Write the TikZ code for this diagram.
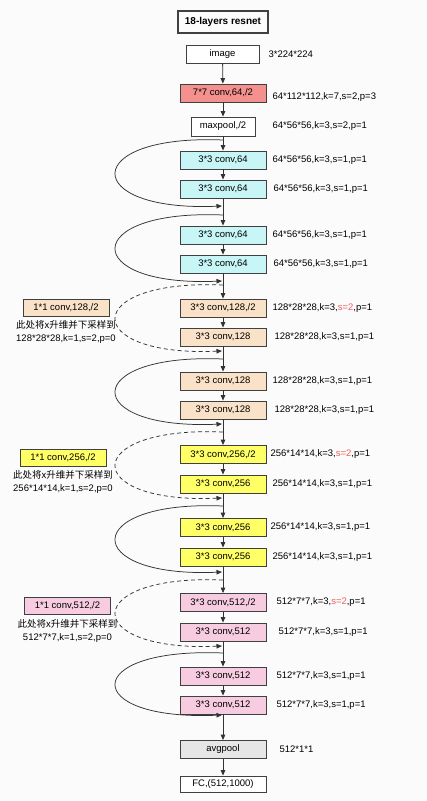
\documentclass[tikz,border=0pt]{standalone}
\usepackage{fontspec}
\setmainfont{Liberation Sans}
\newfontfamily\cjk{Noto Sans CJK SC}
\usetikzlibrary{positioning,arrows.meta}

\definecolor{coral}{HTML}{F4918E}
\definecolor{cyanbox}{HTML}{C8F6F7}
\definecolor{peach}{HTML}{FAE2C8}
\definecolor{lemon}{HTML}{FFFF66}
\definecolor{rose}{HTML}{F7CCE0}
\definecolor{greybox}{HTML}{E6E6E6}
\definecolor{sred}{HTML}{E8625F}
\definecolor{bg}{HTML}{FBFBFB}

\tikzstyle{block}=[draw=black!75,line width=0.8pt,minimum width=86pt,minimum height=18pt,inner sep=0pt,font=\fontsize{9.5}{11}\selectfont]
\tikzstyle{info}=[font=\fontsize{9.5}{11}\selectfont,inner sep=0pt]
\tikzstyle{note}=[font=\fontsize{9.5}{13}\selectfont,align=center,inner sep=0pt]
\tikzstyle{flow}=[draw,black!80,line width=0.8pt,-{Triangle[length=5.5pt,width=4.5pt]}]
\tikzstyle{res edge}=[draw,black!80,line width=0.75pt,-{Triangle[length=5.5pt,width=4.5pt]}]
\tikzstyle{proj edge}=[res edge,dash pattern=on 4pt off 3pt]

\begin{document}
\begin{tikzpicture}[x=1pt,y=-1pt]
    \fill[bg] (0,0) rectangle (427,801);
    % head of the net
    \node[block,line width=1.2pt,minimum width=90pt,minimum height=22pt,font=\fontsize{10}{12}\selectfont\bfseries] (title) at (223,22) {18-layers resnet};
    \node[block,fill=white,minimum width=73pt] (img) at (222.5,54) {image};
    \node[block,fill=coral] (c7) at (223,93) {7*7 conv,64,/2};
    \node[block,fill=white,minimum width=64pt,minimum height=19pt] (pool) at (223,126.5) {maxpool,/2};
    % stage 1
    \node[block,fill=cyanbox] (c64a) at (223,160) {3*3 conv,64};
    \node[block,fill=cyanbox] (c64b) at (223,189) {3*3 conv,64};
    \node[block,fill=cyanbox] (c64c) at (223,235) {3*3 conv,64};
    \node[block,fill=cyanbox] (c64d) at (223,264) {3*3 conv,64};
    % stage 2
    \node[block,fill=peach] (c128a) at (223,308) {3*3 conv,128,/2};
    \node[block,fill=peach] (c128b) at (223,337) {3*3 conv,128};
    \node[block,fill=peach] (c128c) at (223,381) {3*3 conv,128};
    \node[block,fill=peach] (c128d) at (223,410) {3*3 conv,128};
    % stage 3
    \node[block,fill=lemon] (c256a) at (223,454.5) {3*3 conv,256,/2};
    \node[block,fill=lemon] (c256b) at (223,484) {3*3 conv,256};
    \node[block,fill=lemon] (c256c) at (223,527.5) {3*3 conv,256};
    \node[block,fill=lemon] (c256d) at (223,557) {3*3 conv,256};
    % stage 4
    \node[block,fill=rose] (c512a) at (223,602.5) {3*3 conv,512,/2};
    \node[block,fill=rose] (c512b) at (223,632) {3*3 conv,512};
    \node[block,fill=rose] (c512c) at (223,676) {3*3 conv,512};
    \node[block,fill=rose] (c512d) at (223,705) {3*3 conv,512};
    % tail
    \node[block,fill=greybox] (avg) at (223,749.5) {avgpool};
    \node[block,fill=white,minimum height=16pt] (fc) at (223,784) {FC,(512,1000)};

    % shapes beside the blocks
    \node[info,right=9pt of img] (limg) {3*224*224};
    \node[info,right=6pt of c7,yshift=-4pt] (lc7) {64*112*112,k=7,s=2,p=3};
    \node[info,right=17pt of pool] (lpool) {64*56*56,k=3,s=2,p=1};
    \foreach \n/\d in {c64a/6pt,c64b/7pt,c64c/6pt,c64d/7pt}
        \node[info,right=\d of \n] (l\n) {64*56*56,k=3,s=1,p=1};
    \node[info,right=6pt of c128a] (lc128a) {128*28*28,k=3,\textcolor{sred}{s=2},p=1};
    \foreach \n/\d in {c128b/8pt,c128c/6pt,c128d/8pt}
        \node[info,right=\d of \n] (l\n) {128*28*28,k=3,s=1,p=1};
    \node[info,right=4pt of c256a] (lc256a) {256*14*14,k=3,\textcolor{sred}{s=2},p=1};
    \foreach \n/\d in {c256b/6pt,c256c/4pt,c256d/6pt}
        \node[info,right=\d of \n] (l\n) {256*14*14,k=3,s=1,p=1};
    \node[info,right=10pt of c512a] (lc512a) {512*7*7,k=3,\textcolor{sred}{s=2},p=1};
    \foreach \n/\d in {c512b/12pt,c512c/10pt,c512d/10pt}
        \node[info,right=\d of \n] (l\n) {512*7*7,k=3,s=1,p=1};
    \node[info,right=13pt of avg] (lavg) {512*1*1};

    % projection shortcuts
    \node[block,fill=peach,minimum height=17pt] (p128) at (66,307.5) {1*1 conv,128,/2};
    \node[note,below=4pt of p128] (n128) {{\cjk 此处将x升维并下采样到}\\128*28*28,k=1,s=2,p=0};
    \node[block,fill=lemon,minimum height=17pt] (p256) at (63,457.5) {1*1 conv,256,/2};
    \node[note,below=4pt of p256] (n256) {{\cjk 此处将x升维并下采样到}\\256*14*14,k=1,s=2,p=0};
    \node[block,fill=rose,minimum height=17pt] (p512) at (67.5,606) {1*1 conv,512,/2};
    \node[note,below=4pt of p512] (n512) {{\cjk 此处将x升维并下采样到}\\512*7*7,k=1,s=2,p=0};

    % main line
    \foreach \source/\dest in {img/c7, c7/pool, pool/c64a, c64a/c64b, c64b/c64c, c64c/c64d,
        c64d/c128a, c128a/c128b, c128b/c128c, c128c/c128d, c128d/c256a, c256a/c256b,
        c256b/c256c, c256c/c256d, c256d/c512a, c512a/c512b, c512b/c512c, c512c/c512d,
        c512d/avg, avg/fc}
        \path[flow] (\source) -- (\dest);

    % skip connections
    \foreach \a/\b/\kind in {140/206/res edge, 215/281/res edge, 285/351/proj edge,
        359/424/res edge, 432/498/proj edge, 506/572/res edge, 580/646/proj edge,
        653/715/res edge}
    {
        \coordinate (s\a) at (223,\a);
        \coordinate (j\b) at (222,\b);
        \path[\kind] (s\a) .. controls (80,\a-6) and (80,\b+6) .. (j\b);
    }
\end{tikzpicture}
\end{document}
